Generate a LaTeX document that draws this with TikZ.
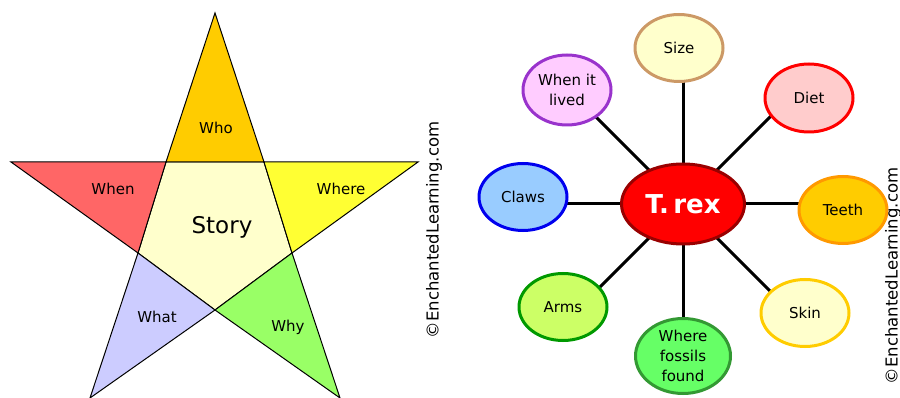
\documentclass[tikz,border=0pt]{standalone}
\usepackage{fontspec}
\setmainfont{DejaVu Sans}
\usetikzlibrary{shapes.geometric,backgrounds}
\definecolor{whoC}{HTML}{FFCC00}
\definecolor{whenC}{HTML}{FF6666}
\definecolor{whereC}{HTML}{FFFF33}
\definecolor{storyC}{HTML}{FFFFCC}
\definecolor{whatC}{HTML}{CCCCFF}
\definecolor{whyC}{HTML}{99FF66}
\definecolor{sizeF}{HTML}{FFFFCC}\definecolor{sizeD}{HTML}{CC9966}
\definecolor{livedF}{HTML}{FFCCFF}\definecolor{livedD}{HTML}{9933CC}
\definecolor{dietF}{HTML}{FFCCCC}\definecolor{dietD}{HTML}{FF0000}
\definecolor{clawsF}{HTML}{99CCFF}\definecolor{clawsD}{HTML}{0000EE}
\definecolor{teethF}{HTML}{FFCC00}\definecolor{teethD}{HTML}{FF9900}
\definecolor{armsF}{HTML}{CCFF66}\definecolor{armsD}{HTML}{009900}
\definecolor{fossF}{HTML}{66FF66}\definecolor{fossD}{HTML}{339933}
\definecolor{skinF}{HTML}{FFFFCC}\definecolor{skinD}{HTML}{FFCC00}
\definecolor{trexF}{HTML}{FF0000}\definecolor{trexD}{HTML}{990000}
\begin{document}
\begin{tikzpicture}[x=1pt,y=-1pt,
  region/.style={draw=black, line width=1pt, line join=miter},
  lbl/.style={font=\fontsize{15}{17}\selectfont, inner sep=0pt},
  bubble/.style={ellipse, line width=3pt, minimum width=88pt, minimum height=67pt, inner sep=0pt, align=center, font=\fontsize{15}{20}\selectfont},
  spoke/.style={line width=3pt, black},
  copyr/.style={font=\fontsize{16.5}{18}\selectfont, rotate=90, inner sep=0pt}]
\useasboundingbox (0,0) rectangle (900,398);
% star vertices
\coordinate (T) at (215,13);
\coordinate (R) at (418,162);
\coordinate (BR) at (340,398);
\coordinate (BL) at (90,398);
\coordinate (L) at (11,162);
\coordinate (A) at (166,162);
\coordinate (B) at (264,162);
\coordinate (C) at (292,253);
\coordinate (D) at (215,310);
\coordinate (E) at (138,253);
\filldraw[region, fill=storyC] (A) -- (B) -- (C) -- (D) -- (E) -- cycle;
\filldraw[region, fill=whoC] (T) -- (B) -- (A) -- cycle;
\filldraw[region, fill=whereC] (B) -- (R) -- (C) -- cycle;
\filldraw[region, fill=whyC] (C) -- (BR) -- (D) -- cycle;
\filldraw[region, fill=whatC] (D) -- (BL) -- (E) -- cycle;
\filldraw[region, fill=whenC] (E) -- (L) -- (A) -- cycle;
\node[lbl] (who) at (216,128) {Who};
\node[lbl] (when) at (113,189) {When};
\node[lbl] (where) at (341,189) {Where};
\node[lbl] (what) at (157,317) {What};
\node[lbl] (why) at (288,327) {Why};
\node[inner sep=0pt, font=\fontsize{23}{25}\selectfont] (story) at (222,227) {Story};
\node[copyr] (copy1) at (434,230) {©EnchantedLearning.com};
% mind map
\node[ellipse, fill=trexF, draw=trexD, line width=3pt, minimum width=123pt, minimum height=80pt, inner sep=0pt, text=white, font=\bfseries\fontsize{26}{28}\selectfont] (trex) at (683,204) {T.\,rex};
\node[bubble, fill=sizeF, draw=sizeD] (size) at (679,48) {Size};
\node[bubble, fill=livedF, draw=livedD, minimum height=70pt] (lived) at (567,90) {When it\\lived};
\node[bubble, fill=dietF, draw=dietD, minimum height=68pt] (diet) at (809,98) {Diet};
\node[bubble, fill=clawsF, draw=clawsD] (claws) at (523,197) {Claws};
\node[bubble, fill=teethF, draw=teethD] (teeth) at (843,210) {Teeth};
\node[bubble, fill=armsF, draw=armsD] (arms) at (563,307) {Arms};
\node[bubble, fill=fossF, draw=fossD, minimum width=95pt, minimum height=75pt] (fossils) at (683,356) {Where\\fossils\\found};
\node[bubble, fill=skinF, draw=skinD] (skin) at (805,313) {Skin};
\begin{scope}[on background layer]
\draw[spoke] (trex.center) -- ++(0,-145) coordinate (sizeEnd);
\draw[spoke] (trex.center) -- ++(115,-115) coordinate (dietEnd);
\draw[spoke] (trex.center) -- ++(150,0) coordinate (teethEnd);
\draw[spoke] (trex.center) -- ++(115,115) coordinate (skinEnd);
\draw[spoke] (trex.center) -- ++(0,145) coordinate (fossilsEnd);
\draw[spoke] (trex.center) -- ++(-115,115) coordinate (armsEnd);
\draw[spoke] (trex.center) -- ++(-150,0) coordinate (clawsEnd);
\draw[spoke] (trex.center) -- ++(-110,-110) coordinate (livedEnd);
\end{scope}
\begin{scope}
\clip (870,0) rectangle (900,398);
\node[copyr] (copy2) at (893,276) {©EnchantedLearning.com};
\end{scope}
\end{tikzpicture}
\end{document}
